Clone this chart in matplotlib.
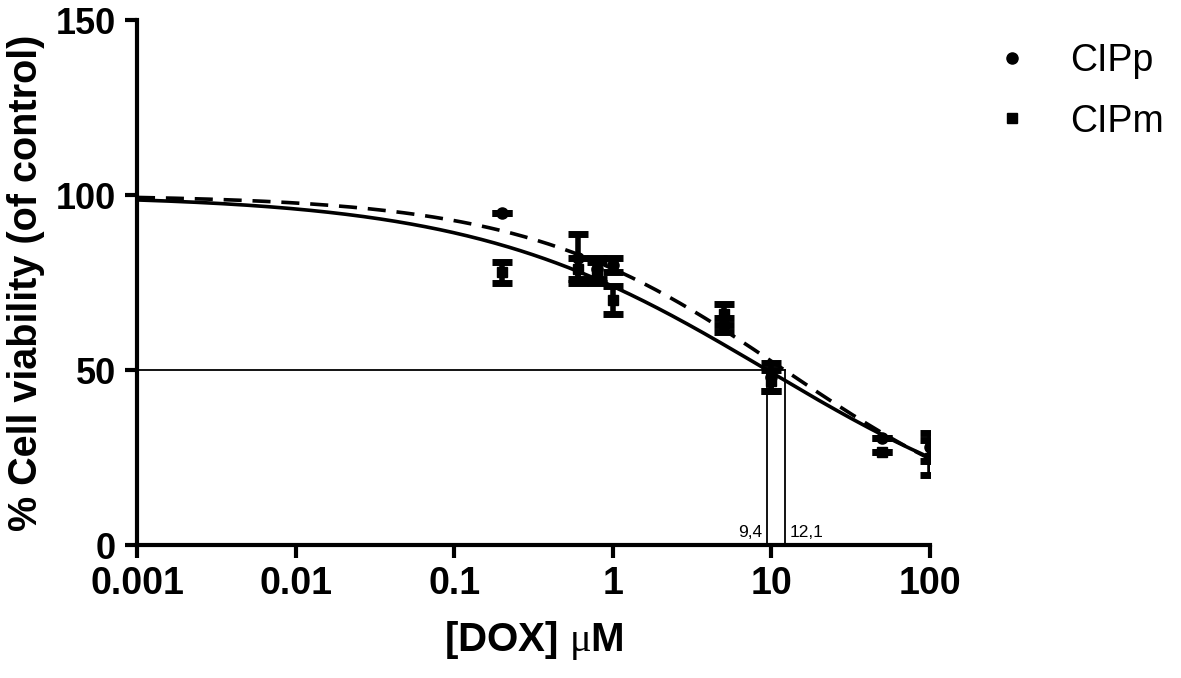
import numpy as np
import matplotlib
matplotlib.use("Agg")
import matplotlib.pyplot as plt

plt.rcParams['font.family'] = ['Liberation Sans', 'DejaVu Sans']
plt.rcParams['mathtext.fontset'] = 'custom'
plt.rcParams['mathtext.rm'] = 'Liberation Serif'

dose_p = [0.2, 0.6, 0.8, 1.0, 5.0, 10.0, 50.0, 100.0]
via_p = [95, 82, 79, 80, 63, 48, 30.5, 28]
sd_p = [0, 7, 3, 2, 2, 4, 0, 4]

dose_m = [0.2, 0.6, 0.8, 1.0, 5.0, 10.0, 50.0, 100.0]
via_m = [78, 79, 78, 70, 66, 47, 26.6, 25]
sd_m = [3, 3, 3, 4, 3, 3, 0, 5]

# Fitted dose-response parameters: top, bottom, IC50, hill slope
fit_p = [100, 0, 9.4, 0.465]
fit_m = [100, 0, 12.1, 0.53]
ic50_labels = ["9,4", "12,1"]


def logistic(x, top, bottom, ic50, hill):
    return bottom + (top - bottom) / (1 + (x / ic50) ** hill)


fig = plt.figure(figsize=(11.81, 6.78), dpi=100)
ax = fig.add_axes([0.116, 0.196, 0.6715, 0.7745])

xs = np.logspace(-3, 2, 400)
ax.plot(xs, logistic(xs, *fit_p), color='black', lw=2.6, zorder=3)
ax.plot(xs, logistic(xs, *fit_m), color='black', lw=2.6, ls=(0, (5, 3)), zorder=3)

eb = dict(color='black', ecolor='black', elinewidth=4, capsize=7,
          capthick=5, linestyle='none', zorder=4)
ax.errorbar(dose_p, via_p, yerr=sd_p, fmt='o', ms=8, label='CIPp', **eb)
ax.errorbar(dose_m, via_m, yerr=sd_m, fmt='s', ms=7.5, label='CIPm', **eb)

# IC50 guide lines
ic_p, ic_m = fit_p[2], fit_m[2]
ax.plot([1e-3, ic_m], [50, 50], color='black', lw=1.3, zorder=2)
ax.plot([ic_p, ic_p], [0, 50], color='black', lw=1.3, zorder=2)
ax.plot([ic_m, ic_m], [0, 50], color='black', lw=1.3, zorder=2)
ax.text(ic_p * 0.93, 1.5, ic50_labels[0], ha='right', va='bottom', fontsize=12.5)
ax.text(ic_m * 1.08, 1.5, ic50_labels[1], ha='left', va='bottom', fontsize=12.5)

ax.set_xscale('log')
ax.set_xlim(1e-3, 100)
ax.set_ylim(0, 150)
ax.set_xticks([0.001, 0.01, 0.1, 1, 10, 100])
ax.set_xticklabels(['0.001', '0.01', '0.1', '1', '10', '100'])
ax.set_yticks([0, 50, 100, 150])
ax.minorticks_off()

for s in ['top', 'right']:
    ax.spines[s].set_visible(False)
for s in ['left', 'bottom']:
    ax.spines[s].set_linewidth(3)
ax.tick_params(axis='both', direction='out', length=9, width=3, pad=6)
ax.tick_params(axis='x', labelsize=27)
ax.tick_params(axis='y', labelsize=26)
for lab in ax.get_xticklabels() + ax.get_yticklabels():
    lab.set_fontweight('bold')

ax.set_xlabel(r'[DOX] $\mathrm{\mu}$M', fontsize=29, fontweight='bold', labelpad=12)
ax.set_ylabel('% Cell viability (of control)', fontsize=28.5, fontweight='bold', labelpad=8)

handles, labels = ax.get_legend_handles_labels()
hs = [h[0] for h in handles]
leg = ax.legend(hs, labels, loc='upper left', bbox_to_anchor=(1.033, 1.02),
                frameon=False, fontsize=27, handletextpad=0.93, labelspacing=0.65,
                handlelength=1.2, markerscale=1.0)

fig.savefig('out.png', dpi=100)
